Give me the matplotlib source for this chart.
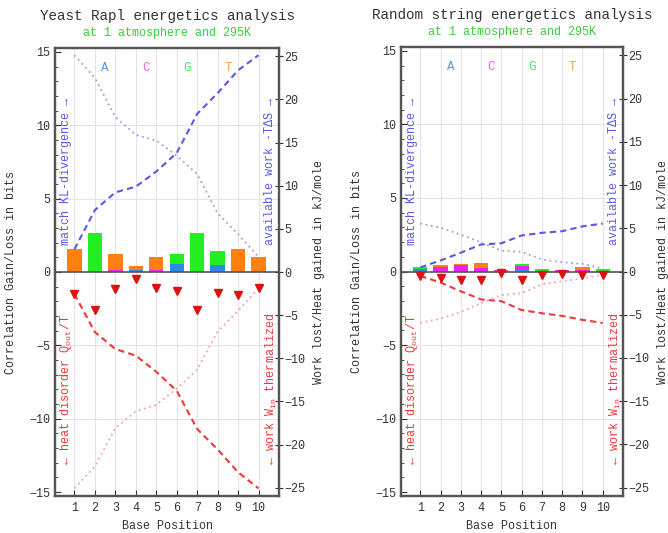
import numpy as np
import matplotlib
matplotlib.use("Agg")
import matplotlib.pyplot as plt
from matplotlib.ticker import MultipleLocator

plt.rcParams['font.family'] = ['Liberation Mono', 'DejaVu Sans Mono', 'DejaVu Sans']
plt.rcParams['mathtext.fontset'] = 'custom'
plt.rcParams['mathtext.rm'] = 'Liberation Mono'
plt.rcParams['mathtext.it'] = 'Liberation Mono'

positions = np.arange(1, 11)
bases = ['A', 'C', 'G', 'T']
base_colors = ['#2b8ce8', '#ee22ee', '#22ee22', '#ff8010']
letter_colors = ['#4a9ef0', '#f060f0', '#50e050', '#ffa040']
KJ_PER_BIT = 1.70  # kT ln2 at 295K

# Yeast Rap1: information gained per base (bits), stacked A,C,G,T
yeast_A = [0, 0, 0, 0.12, 0, 0.53, 0, 0.45, 0, 0]
yeast_C = [0, 0, 0.15, 0, 0.15, 0, 0, 0, 0, 0]
yeast_G = [0, 2.67, 0, 0, 0, 0.73, 2.67, 0.97, 0, 0.10]
yeast_T = [1.55, 0, 1.06, 0.27, 0.88, 0, 0, 0, 1.55, 0.93]
yeast_heat = [1.5, 2.6, 1.15, 0.45, 1.1, 1.3, 2.6, 1.4, 1.55, 1.1]

# random string
rand_A = [0.08, 0.04, 0.03, 0.04, 0.0, 0.10, 0.04, 0.04, 0.0, 0.04]
rand_C = [0.06, 0.28, 0.38, 0.22, 0.08, 0.28, 0.0, 0.07, 0.08, 0.0]
rand_G = [0.14, 0.0, 0.0, 0.04, 0.0, 0.15, 0.14, 0.0, 0.0, 0.15]
rand_T = [0.0, 0.15, 0.12, 0.26, 0.0, 0.0, 0.0, 0.0, 0.25, 0.0]
rand_heat = [0.3, 0.45, 0.6, 0.55, 0.12, 0.6, 0.22, 0.18, 0.27, 0.21]

panels = [
    ("Yeast Rapl energetics analysis", [yeast_A, yeast_C, yeast_G, yeast_T], yeast_heat,
     [55, 48, 279, 496]),
    ("Random string energetics analysis", [rand_A, rand_C, rand_G, rand_T], rand_heat,
     [401, 47, 623, 496]),
]

W, H = 668, 533
fig = plt.figure(figsize=(W / 100, H / 100), dpi=100)

BLUE = '#5a5ae0'
BLUE_DOT = '#a0a0d8'
RED = '#ee3838'
RED_DOT = '#f0a0b0'
SPINE = '#555555'
YMAX = 15.27

for title, stacks, heat, (x0, y0, x1, y1) in panels:
    ax = fig.add_axes([x0 / W, 1 - y1 / H, (x1 - x0) / W, (y1 - y0) / H])
    ax.set_xlim(0.05, 11.0)
    ax.set_ylim(-YMAX, YMAX)

    # grid
    for xv in positions:
        ax.axvline(xv, color='#e4e4e4', lw=0.8, zorder=0)
    for yv in [-10, -5, 5, 10]:
        ax.axhline(yv, color='#e4e4e4', lw=0.8, zorder=0)
    ax.axhline(0, color='#555555', lw=1.2, zorder=3)

    # stacked bars
    bottom = np.zeros(10)
    for vals, c in zip(stacks, base_colors):
        ax.bar(positions, vals, 0.7, bottom=bottom, color=c, zorder=2, linewidth=0)
        bottom += np.array(vals)
    total = bottom
    heat = np.array(heat)

    # cumulative curves
    ax.plot(positions, np.cumsum(total), ls=(0, (3, 2)), color=BLUE, lw=1.5, zorder=4)
    ax.plot(positions, np.cumsum(total[::-1])[::-1], ls=(0, (1, 2)), color=BLUE_DOT, lw=1.3, zorder=4)
    ax.plot(positions, -np.cumsum(heat), ls=(0, (3, 2)), color=RED, lw=1.5, zorder=4)
    ax.plot(positions, -np.cumsum(heat[::-1])[::-1], ls=(0, (1, 2)), color=RED_DOT, lw=1.3, zorder=4)
    ax.plot(positions, -heat, 'v', color='#dd1111', ms=6, zorder=5)

    # base letters
    for i, (b, c) in enumerate(zip(bases, letter_colors)):
        ax.text(2.5 + 2 * i, 13.9, b, color=c, fontsize=9, ha='center', va='center')

    # inner annotations
    ax.text(0.05, 0.56, "match KL-divergence \u2192", transform=ax.transAxes, rotation=90,
            color=BLUE, fontsize=8.5, ha='center', va='bottom')
    ax.text(0.96, 0.56, "available work -T\u0394S \u2192", transform=ax.transAxes, rotation=90,
            color=BLUE, fontsize=8.5, ha='center', va='bottom')
    ax.text(0.05, 0.07, "\u2190 heat disorder $\\mathrm{Q_{out}}$/T", transform=ax.transAxes,
            rotation=90, color=RED, fontsize=8.5, ha='center', va='bottom')
    ax.text(0.965, 0.07, "\u2190 work $\\mathrm{W_{in}}$ thermalized", transform=ax.transAxes,
            rotation=90, color=RED, fontsize=8.5, ha='center', va='bottom')

    # axes styling
    ax.set_xticks(positions)
    ax.yaxis.set_major_locator(MultipleLocator(5))
    ax.yaxis.set_minor_locator(MultipleLocator(1))
    ax.tick_params(axis='both', which='both', direction='in', labelsize=8.5, colors='#333333')
    ax.tick_params(axis='x', length=4, pad=4)
    ax.tick_params(axis='y', which='major', length=4)
    ax.tick_params(axis='y', which='minor', length=2.5)
    ax.tick_params(right=False, top=False)
    for s in ax.spines.values():
        s.set_color(SPINE)
        s.set_linewidth(1.6)
    ax.set_xlabel("Base Position", fontsize=8.5, color='#333333')
    ax.xaxis.set_label_coords(0.5, -0.054)
    ax.set_ylabel("Correlation Gain/Loss in bits", fontsize=8.5, color='#333333')
    ax.yaxis.set_label_coords(-0.17, 0.5)

    ax2 = ax.twinx()
    ax2.set_ylim(-YMAX * KJ_PER_BIT, YMAX * KJ_PER_BIT)
    ax2.yaxis.set_major_locator(MultipleLocator(5))
    ax2.tick_params(axis='y', direction='inout', length=6, labelsize=8.5, colors='#333333', pad=1)
    for s in ax2.spines.values():
        s.set_color(SPINE)
        s.set_linewidth(1.6)
    ax2.set_ylabel("Work lost/Heat gained in kJ/mole", fontsize=8.5, color='#333333')
    ax2.yaxis.set_label_coords(1.152, 0.5)

    ax.text(0.5, 1.071, title, transform=ax.transAxes, ha='center', va='center',
            fontsize=10.3, color='#333333')
    ax.text(0.5, 1.033, "at 1 atmosphere and 295K", transform=ax.transAxes, ha='center',
            va='center', fontsize=8.5, color='#3ccc3c')

fig.savefig("out.png", dpi=100)
